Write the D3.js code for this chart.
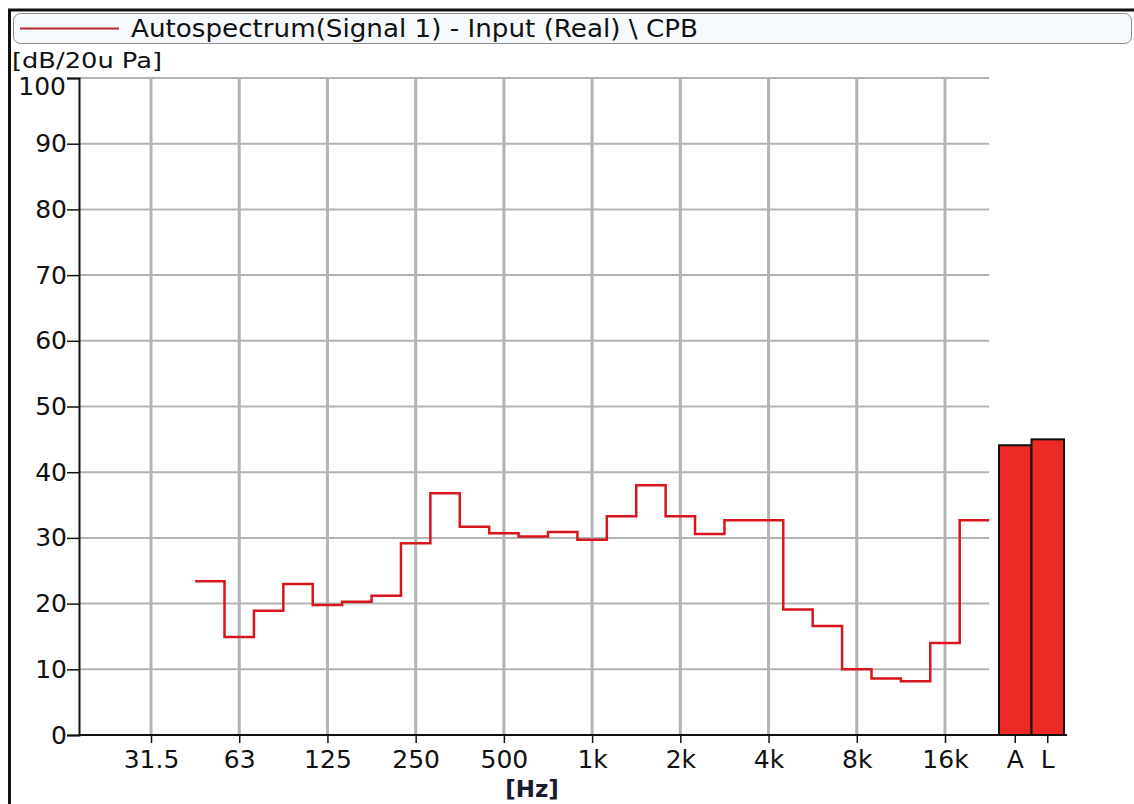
<!DOCTYPE html>
<html>
<head>
<meta charset="utf-8">
<script src="https://cdn.jsdelivr.net/npm/d3@7"></script>
<style>
  html, body { margin: 0; padding: 0; background: #fff; }
  svg { display: block; font-family: "DejaVu Sans", Verdana, sans-serif; }
</style>
</head>
<body>
<svg id="chart" width="1134" height="804"></svg>
<script>
// ---- data ----
const bandFreqs = [50, 63, 80, 100, 125, 160, 200, 250, 315, 400, 500, 630, 800, 1000, 1250, 1600, 2000, 2500, 3150, 4000, 5000, 6300, 8000, 10000, 12500, 16000, 20000];
const bandLevels = [23.4, 14.9, 18.9, 23.0, 19.8, 20.3, 21.2, 29.2, 36.8, 31.7, 30.7, 30.2, 30.9, 29.7, 33.3, 38.0, 33.3, 30.6, 32.7, 32.7, 19.1, 16.6, 10.0, 8.6, 8.2, 14.0, 32.7];
const tickFreqs = [31.5, 63, 125, 250, 500, 1000, 2000, 4000, 8000, 16000];
const tickLabels = ["31.5", "63", "125", "250", "500", "1k", "2k", "4k", "8k", "16k"];
const overallLabels = ["A", "L"];
const overallLevels = [44.1, 45.0];
const yTickValues = [0, 10, 20, 30, 40, 50, 60, 70, 80, 90, 100];
const legendText = "Autospectrum(Signal 1) - Input (Real) \\ CPB";
const yUnit = "[dB/20u Pa]";
const xUnit = "[Hz]";

// ---- layout ----
const svg = d3.select("#chart");
const axisX0 = 79;
const FONT = "DejaVu Sans, Verdana, sans-serif";
const exact = f => 1000 * Math.pow(2, Math.round(3 * Math.log2(f / 1000)) / 3);
const x = d3.scaleLog().base(2).domain([exact(31.5), exact(16000)]).range([151, 945]);
const y = d3.scaleLinear().domain([0, 100]).range([735, 78]);
const xb = d3.scaleBand().domain(overallLabels).range([999, 1064]).padding(0);
const gridRight = x(exact(20000) * Math.pow(2, 1 / 6));

const gridColor = "#b3b3b3";

// frame
svg.append("line").attr("x1", 8).attr("x2", 1134).attr("y1", 10).attr("y2", 10)
  .attr("stroke", "#111").attr("stroke-width", 3);
svg.append("line").attr("x1", 9.5).attr("x2", 9.5).attr("y1", 9).attr("y2", 804)
  .attr("stroke", "#111").attr("stroke-width", 3);

// legend
svg.append("rect").attr("x", 13.5).attr("y", 13.5).attr("width", 1118).attr("height", 30)
  .attr("rx", 7).attr("fill", "#f7fafc").attr("stroke", "#8c8c8c").attr("stroke-width", 1);
svg.append("line").attr("x1", 20).attr("x2", 119).attr("y1", 28.5).attr("y2", 28.5)
  .attr("stroke", "#b8262d").attr("stroke-width", 2);
svg.append("text").attr("x", 131).attr("y", 37).attr("font-size", 24).attr("fill", "#111")
  .attr("textLength", 567).attr("lengthAdjust", "spacingAndGlyphs")
  .text(legendText);

// y unit
svg.append("text").attr("x", 12).attr("y", 68).attr("font-size", 22).attr("fill", "#111")
  .attr("textLength", 150).attr("lengthAdjust", "spacingAndGlyphs")
  .text(yUnit);

// horizontal grid
svg.append("g").selectAll("line").data(yTickValues.filter(d => d > 0)).join("line")
  .attr("x1", axisX0).attr("x2", gridRight)
  .attr("y1", d => y(d)).attr("y2", d => y(d))
  .attr("stroke", gridColor).attr("stroke-width", 2);

// vertical grid
svg.append("g").selectAll("line").data(tickFreqs).join("line")
  .attr("x1", d => x(exact(d))).attr("x2", d => x(exact(d)))
  .attr("y1", y(100)).attr("y2", y(0))
  .attr("stroke", gridColor).attr("stroke-width", 3);

// y axis
const yAxis = d3.axisLeft(y).tickValues(yTickValues).tickSize(12).tickPadding(0).tickFormat(d3.format("d"));
const gy = svg.append("g").attr("transform", `translate(${axisX0},0)`).call(yAxis);
gy.select(".domain").attr("stroke", "#111").attr("stroke-width", 2);
gy.selectAll(".tick line").attr("stroke", "#111").attr("stroke-width", 1.5);
gy.selectAll(".tick text").attr("font-size", 25).attr("fill", "#111").attr("font-family", FONT);
gy.selectAll(".tick").filter(d => d === 100).select("text").attr("dy", "0.66em").attr("x", -13);

// x axis (frequency)
const xAxis = d3.axisBottom(x).tickValues(tickFreqs.map(exact)).tickSize(8).tickPadding(7)
  .tickFormat((d, i) => tickLabels[i]);
const gx = svg.append("g").attr("transform", `translate(0,${y(0)})`).call(xAxis);
gx.select(".domain").remove();
gx.selectAll(".tick line").attr("stroke", "#111").attr("stroke-width", 1.5);
gx.selectAll(".tick text").attr("font-size", 25).attr("fill", "#111").attr("font-family", FONT);

// x axis (overall bands)
const xbAxis = d3.axisBottom(xb).tickSize(8).tickPadding(7);
const gxb = svg.append("g").attr("transform", `translate(0,${y(0)})`).call(xbAxis);
gxb.select(".domain").remove();
gxb.selectAll(".tick line").attr("stroke", "#111").attr("stroke-width", 1.5);
gxb.selectAll(".tick text").attr("font-size", 25).attr("fill", "#111").attr("font-family", FONT);

// step line
const pts = [];
bandFreqs.forEach((f, i) => {
  const c = exact(f);
  pts.push([x(c * Math.pow(2, -1 / 6)), y(bandLevels[i])]);
  pts.push([x(c * Math.pow(2, 1 / 6)), y(bandLevels[i])]);
});
svg.append("path").attr("d", d3.line()(pts))
  .attr("fill", "none").attr("stroke", "#d8141c").attr("stroke-width", 2.5);

// overall bars
svg.append("g").selectAll("rect").data(overallLabels).join("rect")
  .attr("x", d => xb(d)).attr("width", xb.bandwidth())
  .attr("y", (d, i) => y(overallLevels[i]))
  .attr("height", (d, i) => y(0) - y(overallLevels[i]))
  .attr("fill", "#ee2a26").attr("stroke", "#111").attr("stroke-width", 2);

// x baseline
svg.append("line").attr("x1", axisX0).attr("x2", xb.range()[1] + 3)
  .attr("y1", y(0)).attr("y2", y(0)).attr("stroke", "#111").attr("stroke-width", 2);

// x unit
svg.append("text").attr("x", 532).attr("y", 797).attr("text-anchor", "middle")
  .attr("font-size", 23).attr("font-weight", "bold").attr("fill", "#1a1a2e")
  .text(xUnit);
</script>
</body>
</html>
